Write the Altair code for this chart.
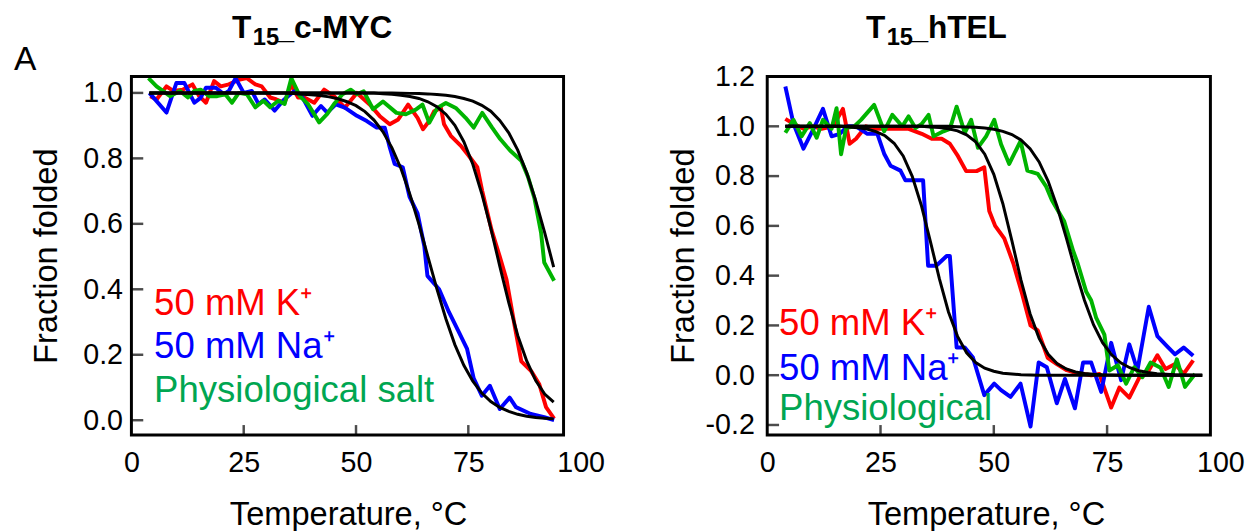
import altair as alt
import pandas as pd

FONT = "Liberation Sans"

# ---------------- Panel 1: T15_c-MYC ----------------
myc_k_T = [4.2, 5.6, 7.8, 9.3, 11.4, 13.6, 15.1, 16.6, 18.4, 19.9, 21.7, 23.9, 25.7, 27.6, 29.0,
           30.9, 32.3, 34.1, 35.6, 37.1, 38.5, 40.7, 42.9, 45.1, 47.5, 50.2, 53.1, 55.3, 57.5, 59.4,
           61.6, 63.7, 64.9, 66.3, 67.4, 68.9, 69.6, 71.1, 73.3, 75.1, 77.0, 78.1, 80.2, 82.0, 83.5,
           85.3, 86.8, 89.0, 90.8, 92.3, 94.1]
myc_k_v = [0.99, 0.98, 1.02, 1.006, 1.01, 1.026, 0.99, 0.97, 1.036, 1.02, 1.026, 1.04, 1.045, 1.026, 1.02,
           0.986, 0.98, 0.97, 1.026, 0.986, 0.986, 0.97, 1.01, 0.99, 0.955, 1.0, 0.964, 0.929, 0.904, 0.919,
           0.964, 0.924, 0.889, 0.914, 0.944, 0.954, 0.904, 0.869, 0.839, 0.808, 0.773, 0.70, 0.58, 0.50, 0.43,
           0.29, 0.18, 0.15, 0.11, 0.04, 0.005]

myc_na_T = [4.0, 7.8, 10.0, 11.8, 14.0, 15.4, 16.6, 18.8, 20.6, 21.7, 23.2, 25.0, 26.8, 28.3, 29.7,
            31.9, 34.0, 36.3, 38.1, 40.3, 42.2, 43.6, 45.5, 47.5, 50.2, 52.4, 54.6, 56.4, 57.5, 58.6,
            60.4, 61.9, 63.7, 65.2, 65.9, 68.5, 70.7, 72.9, 74.7, 76.2, 78.0, 79.8, 82.0, 84.2, 85.6,
            88.9, 91.9, 94.1]
myc_na_v = [1.0, 0.94, 1.03, 1.03, 0.97, 0.985, 1.016, 1.016, 0.996, 1.006, 1.045, 1.0, 1.006, 0.966, 0.98,
            0.946, 0.98, 1.006, 0.986, 0.93, 0.96, 0.94, 0.965, 0.955, 0.93, 0.914, 0.894, 0.894, 0.834, 0.783,
            0.773, 0.683, 0.632, 0.532, 0.441, 0.40, 0.33, 0.269, 0.219, 0.128, 0.075, 0.105, 0.034, 0.069, 0.04,
            0.019, 0.009, 0.0]

myc_ph_T = [3.8, 5.6, 7.0, 8.6, 10.8, 12.6, 14.0, 15.4, 17.3, 19.1, 20.9, 22.4, 23.9, 25.7, 27.6,
            29.4, 30.9, 32.7, 34.1, 35.6, 37.5, 39.3, 41.8, 43.6, 45.1, 47.0, 48.8, 50.2, 51.7, 53.8,
            56.0, 59.0, 61.1, 63.3, 64.8, 66.3, 68.1, 70.0, 72.2, 74.4, 76.2, 78.1, 80.3, 82.1, 84.3,
            86.8, 88.3, 89.7, 91.2, 91.9, 94.1]
myc_ph_v = [1.045, 1.02, 1.006, 0.99, 1.006, 0.986, 1.006, 1.01, 0.99, 0.99, 0.996, 0.97, 1.0, 0.996, 0.956,
            0.976, 0.956, 0.976, 0.966, 1.045, 0.99, 0.966, 0.91, 0.936, 0.966, 0.996, 1.01, 0.996, 1.005, 0.95,
            0.974, 0.939, 0.935, 0.949, 0.964, 0.909, 0.954, 0.969, 0.954, 0.924, 0.894, 0.939, 0.894, 0.859, 0.824,
            0.793, 0.743, 0.679, 0.572, 0.482, 0.426]

myc_fit_T = [4, 6, 8, 10, 12, 14, 16, 18, 20, 22, 24, 26, 28, 30, 32, 34, 36, 38, 40, 42, 44, 46, 48,
             50, 52, 54, 56, 58, 60, 62, 64, 66, 68, 70, 72, 74, 76, 78, 80, 82, 84, 86, 88, 90, 92, 94]
myc_fit_na = [1.0, 1.0, 1.0, 1.0, 1.0, 1.0, 1.0, 1.0, 1.0, 1.0, 1.0, 1.0, 1.0, 1.0, 1.0, 1.0,
              0.998, 0.996, 0.994, 0.992, 0.988, 0.982, 0.973, 0.961, 0.943, 0.917, 0.881, 0.832, 0.769,
              0.690, 0.599, 0.5, 0.401, 0.310, 0.231, 0.168, 0.119, 0.083, 0.057, 0.039, 0.027, 0.018,
              0.012, 0.008, 0.006, 0.004]
myc_fit_k = [1.0, 1.0, 1.0, 1.0, 1.0, 1.0, 1.0, 1.0, 1.0, 1.0, 1.0, 1.0, 1.0, 1.0, 1.0, 1.0, 1.0, 1.0,
             1.0, 1.0, 1.0, 1.0, 1.0, 1.0, 1.0, 1.0, 0.997, 0.996, 0.993, 0.989, 0.983, 0.973, 0.958,
             0.935, 0.901, 0.851, 0.782, 0.692, 0.587, 0.471, 0.359, 0.259, 0.181, 0.121, 0.080, 0.055]
myc_fit_ph = [1.0, 1.0, 1.0, 1.0, 1.0, 1.0, 1.0, 1.0, 1.0, 1.0, 1.0, 1.0, 1.0, 1.0, 1.0, 1.0, 1.0, 1.0,
              1.0, 1.0, 1.0, 1.0, 1.0, 1.0, 1.0, 1.0, 1.0, 1.0, 0.999, 0.9986, 0.998, 0.997, 0.995, 0.993,
              0.989, 0.983, 0.975, 0.962, 0.944, 0.916, 0.878, 0.825, 0.756, 0.671, 0.573, 0.468]

# ---------------- Panel 2: T15_hTEL ----------------
tel_k_T = [4.0, 5.8, 8.0, 10.0, 12.0, 14.5, 16.7, 18.2, 19.6, 21.8, 24.0, 26.0, 28.3, 31.2, 34.1,
           36.3, 38.5, 40.3, 42.1, 43.9, 46.2, 47.9, 49.0, 50.3, 52.3, 54.3, 56.2, 58.1, 59.7, 61.9,
           63.9, 66.1, 67.9, 69.7, 71.5, 73.3, 75.9, 77.7, 79.9, 82.1, 83.9, 86.1, 87.9, 90.0, 91.9, 94.0]
tel_k_v = [1.03, 1.01, 0.99, 1.0, 0.99, 1.0, 1.07, 0.93, 0.95, 1.0, 0.99, 0.99, 0.99, 0.99, 0.97,
           0.95, 0.95, 0.93, 0.88, 0.82, 0.82, 0.835, 0.66, 0.60, 0.55, 0.45, 0.33, 0.20, 0.18, 0.07,
           0.045, 0.02, 0.01, 0.005, 0.0, 0.005, -0.13, -0.05, -0.09, -0.01, 0.01, 0.08, 0.025, 0.045, 0.005, 0.06]

tel_na_T = [4.0, 5.8, 8.0, 10.2, 12.3, 14.2, 16.0, 17.8, 19.6, 22.1, 24.3, 25.8, 27.2, 29.4, 30.5,
            32.5, 34.4, 35.5, 37.3, 39.6, 40.3, 41.8, 43.6, 45.4, 47.9, 50.1, 51.6, 53.7, 55.9, 58.1,
            59.9, 61.7, 63.9, 65.7, 67.9, 69.7, 71.5, 73.7, 75.9, 78.1, 79.9, 81.7, 84.2, 86.1, 88.2,
            90.0, 91.9, 94.0]
tel_na_v = [1.16, 1.01, 0.91, 0.99, 1.07, 0.96, 0.97, 1.0, 1.0, 0.97, 0.97, 0.89, 0.842, 0.822, 0.783,
            0.783, 0.783, 0.44, 0.44, 0.479, 0.479, 0.111, 0.111, 0.071, -0.08, -0.034, -0.06, -0.087, -0.034, -0.206,
            0.051, 0.032, -0.113, -0.015, -0.133, 0.051, 0.051, -0.067, 0.13, -0.02, 0.124, 0.02, 0.275, 0.157, 0.117,
            0.084, 0.111, 0.078]

tel_ph_T = [4.0, 5.8, 7.6, 9.4, 10.9, 12.3, 14.2, 15.3, 16.3, 17.4, 19.2, 20.7, 23.6, 25.8, 27.6,
            29.8, 31.2, 32.7, 34.1, 35.6, 36.7, 38.9, 40.3, 41.8, 43.6, 45.0, 46.5, 48.3, 50.1, 51.6,
            53.4, 55.9, 57.4, 59.7, 61.5, 62.8, 64.2, 65.5, 67.5, 68.5, 70.4, 71.5, 72.6, 74.4, 75.5,
            77.4, 79.2, 81.0, 82.8, 84.6, 86.8, 88.6, 90.4, 92.2, 94.4]
tel_ph_v = [0.974, 1.026, 0.96, 1.013, 0.954, 1.026, 0.99, 1.073, 0.888, 0.993, 1.0, 1.026, 1.086, 0.98, 1.046,
            1.0, 1.04, 0.993, 1.01, 1.046, 0.96, 0.98, 0.99, 1.079, 0.974, 1.026, 0.914, 0.96, 1.026, 0.928,
            0.849, 0.941, 0.822, 0.809, 0.76, 0.704, 0.66, 0.62, 0.50, 0.45, 0.335, 0.30, 0.23, 0.163, 0.019,
            0.04, -0.034, 0.032, -0.008, 0.051, 0.03, -0.047, 0.064, -0.047, 0.005]

tel_fit_T = [4, 6, 8, 10, 12, 14, 16, 18, 20, 22, 24, 26, 28, 30, 32, 34, 36, 38, 40, 42, 44, 46, 48,
             50, 52, 54, 56, 58, 60, 62, 64, 66, 68, 70, 72, 74, 76, 78, 80, 82, 84, 86, 88, 90, 92, 94, 96]
tel_fit_na = [1.0, 1.0, 1.0, 1.0, 1.0, 1.0, 1.0, 0.997, 0.994, 0.989, 0.979, 0.962, 0.932, 0.881, 0.799,
              0.683, 0.538, 0.387, 0.254, 0.156, 0.090, 0.051, 0.028, 0.016, 0.008, 0.005, 0.002, 0.001,
              0.0, 0.0, 0.0, 0.0, 0.0, 0.0, 0.0, 0.0, 0.0, 0.0, 0.0, 0.0, 0.0, 0.0, 0.0, 0.0, 0.0, 0.0, 0.0]
tel_fit_k = [1.0, 1.0, 1.0, 1.0, 1.0, 1.0, 1.0, 1.0, 1.0, 1.0, 1.0, 1.0, 1.0, 1.0, 1.0, 1.0, 0.997,
             0.995, 0.990, 0.982, 0.966, 0.938, 0.888, 0.807, 0.689, 0.540, 0.382, 0.247, 0.148, 0.084,
             0.046, 0.025, 0.013, 0.007, 0.004, 0.002, 0.001, 0.0, 0.0, 0.0, 0.0, 0.0, 0.0, 0.0, 0.0, 0.0, 0.0]
tel_fit_ph = [1.0, 1.0, 1.0, 1.0, 1.0, 1.0, 1.0, 1.0, 1.0, 1.0, 1.0, 1.0, 1.0, 1.0, 1.0, 1.0, 1.0, 1.0,
              1.0, 0.9985, 0.9975, 0.996, 0.993, 0.988, 0.980, 0.967, 0.945, 0.910, 0.857, 0.779, 0.676,
              0.552, 0.421, 0.301, 0.203, 0.131, 0.082, 0.050, 0.030, 0.018, 0.011, 0.006, 0.004, 0.002,
              0.001, 0.0, 0.0]

SERIES = ["K", "Na", "Phys"]
LINE_COLORS = ["#ff0000", "#0000ff", "#00b400"]
TEXT_COLORS = ["#ff0000", "#0000ff", "#00a651"]
X_LABELS = [0, 25, 50, 75, 100]
X_TICKS = [25, 50, 75]
MYC_Y = [0.0, 0.2, 0.4, 0.6, 0.8, 1.0]
TEL_Y = [-0.2, 0.0, 0.2, 0.4, 0.6, 0.8, 1.0, 1.2]


def make_df(parts):
    frames = []
    for name, T, v in parts:
        frames.append(pd.DataFrame({"T": T, "v": v, "s": name, "i": list(range(len(T)))}))
    return pd.concat(frames, ignore_index=True)


def text_layer(txt, x, y, size, color="black", weight="normal"):
    return alt.Chart(alt.Data(values=[{}])).mark_text(
        text=txt, color=color, font=FONT, fontSize=size, fontWeight=weight,
        align="left", baseline="alphabetic").encode(x=alt.value(x), y=alt.value(y))


def panel(data_df, fit_df, ydom, yvals, width, height, box_xmax, title_parts,
          labels, label_x, label_ys, ylab_pad, ytitle_pad, extra_text=None):
    X = alt.X("T:Q", scale=alt.Scale(domain=[0, 100], nice=False, zero=False),
              axis=alt.Axis(values=X_LABELS, title="Temperature, °C", format="d",
                            labelPadding=14, titlePadding=22, titleX=width / 2 - 8))
    Y = alt.Y("v:Q", scale=alt.Scale(domain=ydom, nice=False, zero=False),
              axis=alt.Axis(values=yvals, title="Fraction folded",
                            labelExpr="replace(format(datum.value, '.1f'), '\u2212', '-')",
                            labelPadding=ylab_pad, titlePadding=ytitle_pad))
    color = alt.Color("s:N", scale=alt.Scale(domain=SERIES, range=LINE_COLORS), legend=None)

    data_lines = alt.Chart(data_df).mark_line(strokeWidth=4, strokeJoin="round").encode(
        x=X, y=Y, color=color, order="i:Q")
    fit_lines = alt.Chart(fit_df).mark_line(strokeWidth=3, color="black").encode(
        x=X, y=Y, detail="s:N", order="i:Q")
    xt = alt.Chart(pd.DataFrame({"T": X_TICKS})).mark_tick(
        orient="vertical", size=10, thickness=2.5, color="black").encode(x=X, y=alt.value(height - 5))
    yt = alt.Chart(pd.DataFrame({"v": yvals})).mark_tick(
        orient="horizontal", size=12, thickness=2.5, color="black").encode(y=Y, x=alt.value(6))
    frame = alt.Chart(alt.Data(values=[{}])).mark_rect(
        fillOpacity=0, stroke="black", strokeWidth=3).encode(
        x=alt.datum(0), x2=alt.datum(box_xmax), y=alt.datum(ydom[0]), y2=alt.datum(ydom[1]))
    layers = [data_lines, fit_lines, xt, yt, frame]
    for txt, col, ly in zip(labels, TEXT_COLORS, label_ys):
        layers.append(text_layer(txt, label_x, ly, 37, col))
    for t, tx, ty, ts in title_parts:
        layers.append(text_layer(t, tx, ty, ts, "black", "bold"))
    if extra_text is not None:
        t, ex, ey, fs = extra_text
        layers.append(text_layer(t, ex, ey, fs))
    return alt.layer(*layers).properties(width=width, height=height)


myc_df = make_df([("K", myc_k_T, myc_k_v), ("Na", myc_na_T, myc_na_v), ("Phys", myc_ph_T, myc_ph_v)])
myc_fit = make_df([("K", myc_fit_T, myc_fit_k), ("Na", myc_fit_T, myc_fit_na), ("Phys", myc_fit_T, myc_fit_ph)])
tel_df = make_df([("K", tel_k_T, tel_k_v), ("Na", tel_na_T, tel_na_v), ("Phys", tel_ph_T, tel_ph_v)])
tel_fit = make_df([("K", tel_fit_T, tel_fit_k), ("Na", tel_fit_T, tel_fit_na), ("Phys", tel_fit_T, tel_fit_ph)])

left = panel(myc_df, myc_fit, [-0.045, 1.05], MYC_Y, 455, 363, 96.2,
             [("T", 102, -39, 32), ("15", 123, -32, 24), ("_c-MYC", 147, -39, 32)],
             ["50 mM K\u207a", "50 mM Na\u207a", "Physiological salt"], 23, [242, 285, 330], 9, 20,
             extra_text=("A", -119, -7, 34))
right = panel(tel_df, tel_fit, [-0.24, 1.2], TEL_Y, 459, 363, 97.8,
              [("T", 100, -39, 32), ("15", 121, -32, 24), ("_hTEL", 145, -39, 32)],
              ["50 mM K\u207a", "50 mM Na\u207a", "Physiological"], 12, [262, 307, 348], 13, 5)

chart = alt.hconcat(left, right, spacing=62).properties(
    padding={"left": 5, "top": 0, "right": 5, "bottom": 5}
).configure_view(stroke="transparent").configure_axis(
    labelFont=FONT, titleFont=FONT, labelFontSize=29, titleFontSize=33, titleFontWeight="normal",
    labelColor="black", titleColor="black", ticks=False, domain=False, grid=False,
    labelFlush=False, labelOverlap=False
)

chart.save("out.html", embed_options={"renderer": "svg", "actions": False})
